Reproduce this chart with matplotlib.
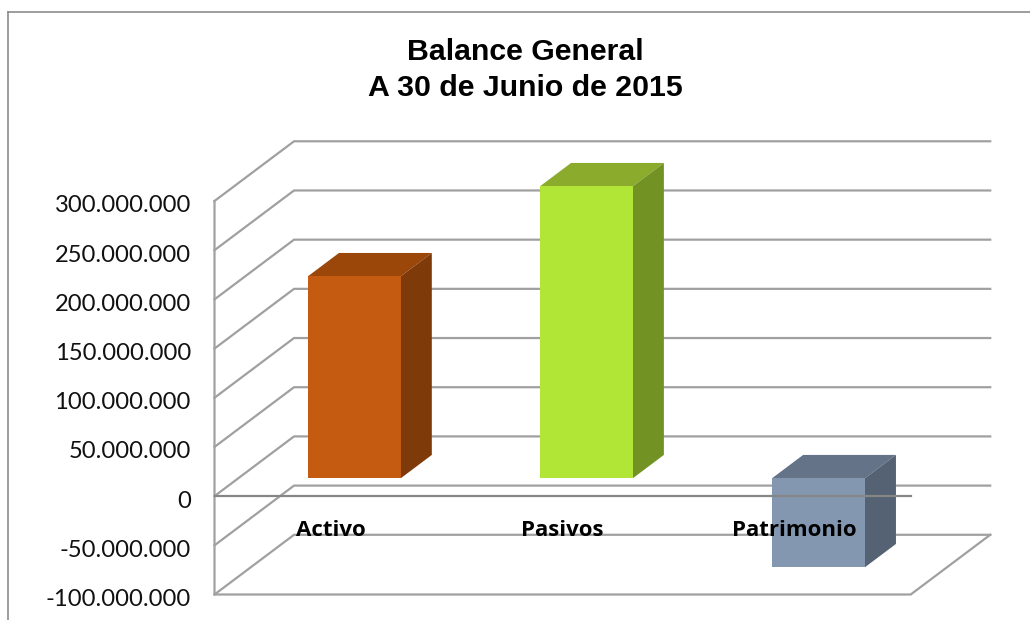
import matplotlib
matplotlib.use("Agg")
import matplotlib.pyplot as plt
from matplotlib.lines import Line2D
from matplotlib.transforms import ScaledTranslation

categories = ["Activo", "Pasivos", "Patrimonio"]
values = [205300000, 296800000, -90500000]
front_colors = ["#C55A11", "#B2E636", "#8497B0"]
top_colors = ["#9A4709", "#8AAB2B", "#647387"]
side_colors = ["#7F3A0A", "#729324", "#556273"]
y_ticks = [-100000000, -50000000, 0, 50000000, 100000000, 150000000, 200000000, 250000000, 300000000]

W, H = 1030, 620
# oblique depth of the fake 3d box, in data units
DEPTH_X = 79.5 / 232
DEPTH_Y = 60.7e6
GRID = "#A0A0A0"


def proj(x, y, d):
    return x + d * DEPTH_X, y + d * DEPTH_Y


def face(ax, pts, color, z=1):
    xs, ys = zip(*[proj(*p) for p in pts])
    ax.fill(xs, ys, color=color, lw=0, zorder=z, clip_on=False)


def fmt(v):
    return f"{v:,}".replace(",", ".")


fig = plt.figure(figsize=(W / 100, H / 100), dpi=100)
ax = fig.add_axes([214.5 / W, 1 - 594.5 / H, (910.7 - 214.5) / W, (594.5 - 201) / H])
ax.set_xlim(0, 3)
ax.set_ylim(-100000000, 300000000)
ax.patch.set_visible(False)

for v in y_ticks:
    xs, ys = zip(proj(0, v, 0), proj(0, v, 1), proj(3, v, 1))
    ax.plot(xs, ys, color=GRID, lw=1.6, zorder=0.5, clip_on=False, solid_joinstyle="miter")
# front edges of the wall and the floor, right edge of the floor
xs, ys = zip(proj(0, y_ticks[-1], 0), proj(0, y_ticks[0], 0), proj(3, y_ticks[0], 0), proj(3, y_ticks[0], 1))
ax.plot(xs, ys, color=GRID, lw=1.6, zorder=0.5, clip_on=False, solid_joinstyle="miter")

for i, v in enumerate(values):
    left, right = i + 0.3, i + 0.7
    lo, hi = min(0, v), max(0, v)
    d0, d1 = 0.3, 0.69
    face(ax, [(left, hi, d0), (right, hi, d0), (right, hi, d1), (left, hi, d1)], top_colors[i])
    face(ax, [(right, lo, d0), (right, hi, d0), (right, hi, d1), (right, lo, d1)], side_colors[i])
    face(ax, [(left, lo, d0), (right, lo, d0), (right, hi, d0), (left, hi, d0)], front_colors[i])

ax.set_axisbelow(False)
ax.spines["top"].set_visible(False)
ax.spines["right"].set_visible(False)
ax.spines["left"].set_visible(False)
ax.spines["bottom"].set_position(("data", 0))
ax.spines["bottom"].set_color("#868686")
ax.spines["bottom"].set_linewidth(1.6)

ax.set_yticks(y_ticks)
ax.set_yticklabels([fmt(v) for v in y_ticks], family="Lato", fontsize=17.1, color="#111111")
ax.tick_params(axis="y", length=0, pad=17)
# labels sit a bit under their gridlines in the original
shift = ScaledTranslation(0, -3 / 100, fig.dpi_scale_trans)
for label in ax.get_yticklabels():
    label.set_transform(label.get_transform() + shift)

ax.set_xticks([0.5, 1.5, 2.5])
ax.set_xticklabels(categories, family="Open Sans", fontweight="bold", fontsize=16, color="black")
ax.tick_params(axis="x", length=0, pad=17)

fig.text(525 / W, 1 - 70 / H, "Balance General\nA 30 de Junio de 2015", family="Liberation Sans",
         fontweight="bold", fontsize=21.8, ha="center", va="center", linespacing=1.33, color="black")

# chart frame, cut off by the screenshot on the right and bottom
fig.add_artist(Line2D([8 / W, 8 / W], [0, 1 - 11.5 / H], color="#8C8C8C", lw=1.2))
fig.add_artist(Line2D([8 / W, 1], [1 - 11.5 / H, 1 - 11.5 / H], color="#8C8C8C", lw=1.2))

fig.savefig("out.png", dpi=100)
